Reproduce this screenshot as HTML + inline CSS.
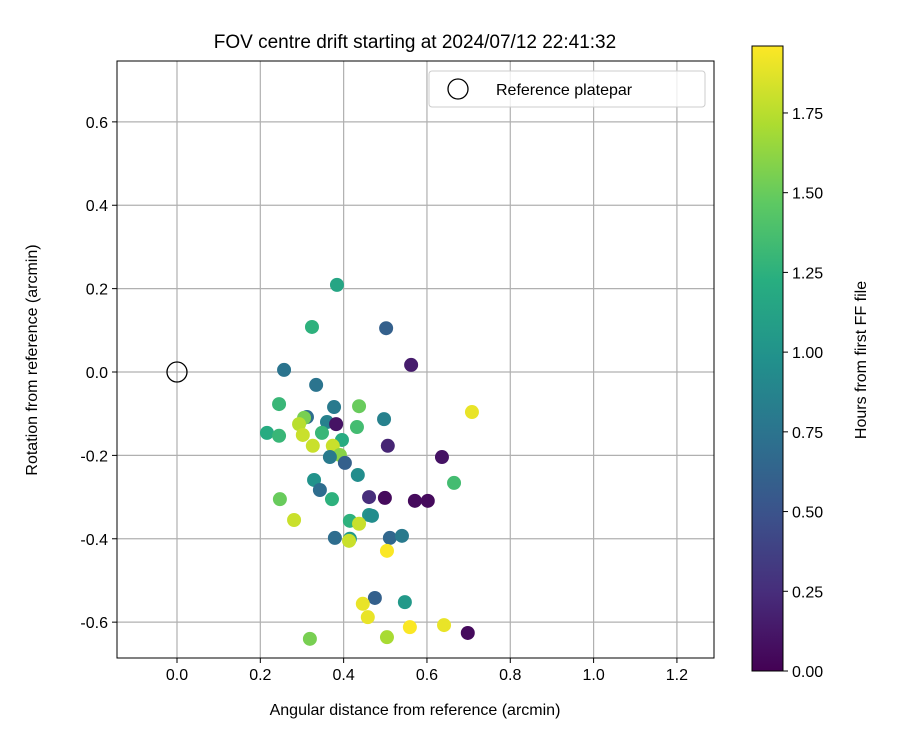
<!DOCTYPE html>
<html><head><meta charset="utf-8"><style>body{margin:0;background:#fff}svg{display:block;font-family:"Liberation Sans","DejaVu Sans",sans-serif}</style></head>
<body>
<svg id="chart" width="900" height="750" xmlns="http://www.w3.org/2000/svg">
<defs><linearGradient id="vir" x1="0" y1="1" x2="0" y2="0">
<stop offset="0" stop-color="#440154"/><stop offset="0.125" stop-color="#472d7b"/><stop offset="0.25" stop-color="#3b528b"/><stop offset="0.375" stop-color="#2c728e"/><stop offset="0.5" stop-color="#21918c"/><stop offset="0.625" stop-color="#28ae80"/><stop offset="0.75" stop-color="#5ec962"/><stop offset="0.875" stop-color="#addc30"/><stop offset="1" stop-color="#fde725"/></linearGradient></defs>
</svg>
<script>
const xs=[0.384,0.324,0.502,0.562,0.257,0.334,0.245,0.377,0.437,0.497,0.708,0.312,0.305,0.360,0.382,0.293,0.432,0.216,0.245,0.302,0.348,0.396,0.506,0.326,0.374,0.391,0.367,0.403,0.636,0.434,0.665,0.329,0.343,0.247,0.372,0.461,0.499,0.571,0.602,0.281,0.415,0.461,0.468,0.437,0.379,0.415,0.413,0.511,0.540,0.504,0.475,0.446,0.547,0.458,0.559,0.641,0.698,0.319,0.504];
const ys=[0.209,0.108,0.105,0.017,0.005,-0.031,-0.077,-0.084,-0.082,-0.113,-0.096,-0.108,-0.110,-0.120,-0.125,-0.125,-0.132,-0.146,-0.153,-0.151,-0.146,-0.163,-0.177,-0.177,-0.177,-0.199,-0.204,-0.218,-0.204,-0.247,-0.266,-0.259,-0.283,-0.305,-0.305,-0.300,-0.302,-0.309,-0.309,-0.355,-0.357,-0.343,-0.345,-0.364,-0.398,-0.400,-0.405,-0.398,-0.393,-0.429,-0.542,-0.556,-0.552,-0.588,-0.612,-0.607,-0.626,-0.640,-0.636];
const hours=[1.15,1.25,0.6,0.15,0.75,0.75,1.3,0.8,1.5,0.85,1.9,0.7,1.55,0.85,0.1,1.75,1.35,1.2,1.3,1.8,1.3,1.2,0.2,1.8,1.8,1.6,0.8,0.6,0.1,0.95,1.35,1.0,0.7,1.5,1.25,0.25,0.05,0.05,0.05,1.8,1.25,1.0,0.95,1.8,0.7,1.05,1.8,0.65,0.8,1.95,0.6,1.9,1.05,1.9,1.95,1.9,0.05,1.55,1.7];
const xTicks=[0.0,0.2,0.4,0.6,0.8,1.0,1.2];
const yTicks=[-0.6,-0.4,-0.2,0.0,0.2,0.4,0.6];
const cTicks=[0,0.25,0.5,0.75,1.0,1.25,1.5,1.75];
const L=117,R=714,T=61,B=658, X0=-0.144,X1=1.289,Y0=-0.686,Y1=0.746, CMAX=1.96;
const sx=v=>L+(v-X0)/(X1-X0)*(R-L), sy=v=>B-(v-Y0)/(Y1-Y0)*(B-T);
const cbT=46,cbB=671,cby=v=>cbB-v/CMAX*(cbB-cbT);
const svg=document.getElementById('chart'),NS='http://www.w3.org/2000/svg';
function mk(t,a,txt){const e=document.createElementNS(NS,t);for(const k in a)e.setAttribute(k,a[k]);if(txt!==undefined)e.textContent=txt;svg.appendChild(e);return e;}
const stops=[[68,1,84],[71,45,123],[59,82,139],[44,114,142],[33,145,140],[40,174,128],[94,201,98],[173,220,48],[253,231,37]];
function vir(v){let t=Math.max(0,Math.min(1,v/CMAX))*8,i=Math.min(7,Math.floor(t)),f=t-i,a=stops[i],b=stops[i+1];return `rgb(${a.map((c,k)=>Math.round(c+(b[k]-c)*f)).join(',')})`;}
xTicks.forEach(v=>{const g=mk('line',{x1:sx(v),x2:sx(v),y1:T,y2:B,stroke:'#b0b0b0','stroke-width':1.2});


mk('line',{x1:sx(v),x2:sx(v),y1:B,y2:B+5,stroke:'#000'});
const t=mk('text',{x:sx(v),y:B+22,'text-anchor':'middle','font-size':16},v.toFixed(1));

});
yTicks.forEach(v=>{const g=mk('line',{x1:L,x2:R,y1:sy(v),y2:sy(v),stroke:'#b0b0b0','stroke-width':1.2});


mk('line',{x1:L-5,x2:L,y1:sy(v),y2:sy(v),stroke:'#000'});
const t=mk('text',{x:L-9,y:sy(v)+6,'text-anchor':'end','font-size':16},v.toFixed(1));

});
xs.forEach((x,i)=>{const c=mk('circle',{cx:sx(x),cy:sy(ys[i]),r:7,fill:vir(hours[i])});

});
const ref=mk('circle',{cx:sx(0),cy:sy(0),r:10,fill:'none',stroke:'#000','stroke-width':1.3});


const fr=mk('rect',{x:L,y:T,width:R-L,height:B-T,fill:'none',stroke:'#000','stroke-width':1});


const lg=mk('rect',{x:429,y:71,width:276,height:36,rx:3,fill:'#fff',stroke:'#ccc','fill-opacity':0.8});


mk('circle',{cx:458,cy:89,r:10,fill:'none',stroke:'#000','stroke-width':1.3});
const lt=mk('text',{x:496,y:95,'font-size':16},'Reference platepar');


const ti=mk('text',{x:415,y:48,'text-anchor':'middle','font-size':19},'FOV centre drift starting at 2024/07/12 22:41:32');


const xt=mk('text',{x:415,y:715,'text-anchor':'middle','font-size':16},'Angular distance from reference (arcmin)');


const yt=mk('text',{x:0,y:0,'text-anchor':'middle','font-size':16,transform:'translate(37,360) rotate(-90)'},'Rotation from reference (arcmin)');


const cb=mk('rect',{x:752,y:cbT,width:31,height:cbB-cbT,fill:'url(#vir)',stroke:'#000','stroke-width':1});


cTicks.forEach(v=>{mk('line',{x1:783,x2:788,y1:cby(v),y2:cby(v),stroke:'#000'});
const t=mk('text',{x:792,y:cby(v)+6,'font-size':16},v.toFixed(2));

});
const ct=mk('text',{x:0,y:0,'text-anchor':'middle','font-size':16,transform:'translate(866,360) rotate(-90)'},'Hours from first FF file');


</script>
</body></html>
